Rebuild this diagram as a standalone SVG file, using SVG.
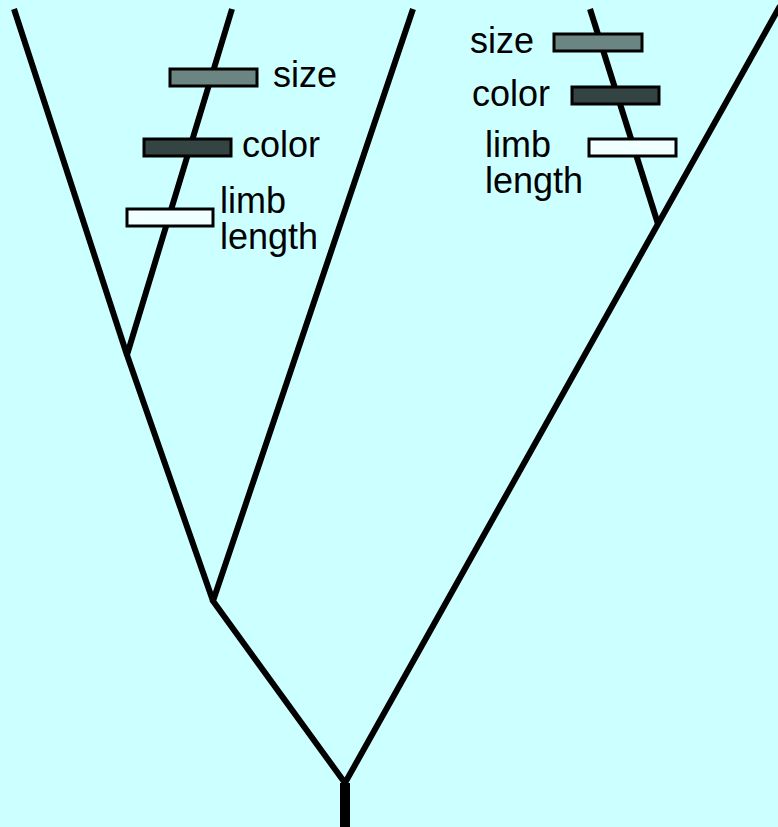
<svg xmlns="http://www.w3.org/2000/svg" width="778" height="827" viewBox="0 0 778 827">
<style>
.br{fill:none;stroke:#000;stroke-width:6;stroke-linejoin:miter;stroke-linecap:butt}
.bar{stroke:#000;stroke-width:3}
.s{fill:#6b8582}
.c{fill:#334443}
.l{fill:#f0ffff}
text{font-family:"Liberation Sans",Arial,sans-serif;font-size:36px;fill:#000}
</style>
<rect width="778" height="827" fill="#ccffff"/>
<g id="connectors">
<line class="br" x1="345" y1="827" x2="345" y2="783" style="stroke-width:10"/>
<polyline class="br" points="413,9 213,601 345,783 780,6"/>
<polyline class="br" points="232,9 127,355 213,601"/>
<line class="br" x1="14" y1="9" x2="127" y2="355"/>
<line class="br" x1="590" y1="9" x2="658" y2="224"/>
</g>
<g id="left-traits">
<rect class="bar s" x="170" y="69" width="87" height="17"/>
<rect class="bar c" x="144" y="139" width="87" height="17"/>
<rect class="bar l" x="127" y="209" width="86" height="17"/>
<text x="273" y="87">size</text>
<text x="242" y="157">color</text>
<text x="220" y="213">limb<tspan x="220" dy="36">length</tspan></text>
</g>
<g id="right-traits">
<rect class="bar s" x="554" y="34" width="88" height="17"/>
<rect class="bar c" x="572" y="87" width="87" height="17"/>
<rect class="bar l" x="589" y="139" width="87" height="17"/>
<text x="470" y="53">size</text>
<text x="472" y="106">color</text>
<text x="485" y="157">limb<tspan x="485" dy="36">length</tspan></text>
</g>
</svg>
